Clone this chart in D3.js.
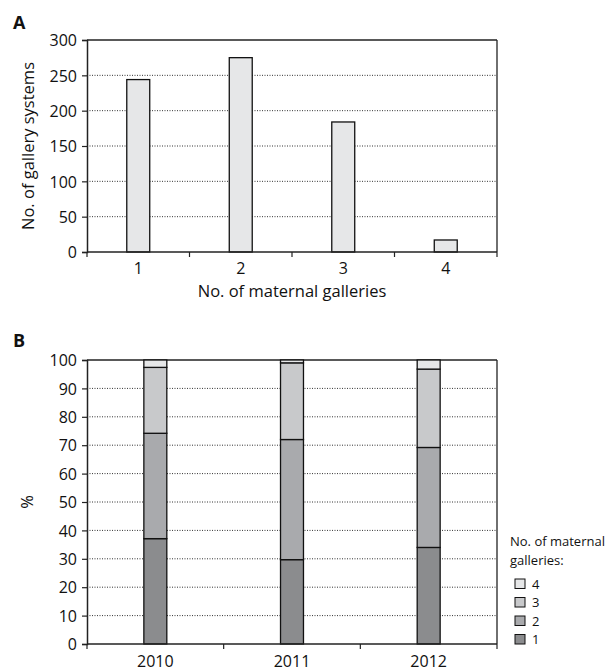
<!DOCTYPE html>
<html>
<head>
<meta charset="utf-8">
<script src="https://cdn.jsdelivr.net/npm/d3@7"></script>
<style>
html,body{margin:0;padding:0;background:#fff;}
svg text{font-family:"Open Sans","Liberation Sans",sans-serif;fill:#111;}
</style>
</head>
<body>
<svg id="chart" width="612" height="671"></svg>
<script>
// ---- Data ----
const galleryCategories = ["1", "2", "3", "4"];
const gallerySystems = [244, 275, 184, 17];
const yTicksA = [0, 50, 100, 150, 200, 250, 300];

const years = ["2010", "2011", "2012"];
const pct1 = [37.1, 29.7, 34.0];
const pct2 = [37.1, 42.3, 35.2];
const pct3 = [23.2, 27.0, 27.6];
const pct4 = [2.6, 1.0, 3.2];
const seriesKeys = ["1", "2", "3", "4"];
const seriesColors = ["#8b8c8e", "#a9aaad", "#c8c9cb", "#e6e7e8"];
const yTicksB = [0, 10, 20, 30, 40, 50, 60, 70, 80, 90, 100];

const svg = d3.select("#chart");
const L = 87, R = 497;
const FS = 16;
const TFS = 16.5;

function drawFrame(g, x0, x1, y0, y1) {
  g.append("line").attr("x1", x0).attr("x2", x1).attr("y1", y0).attr("y2", y0).attr("stroke", "#222").attr("stroke-width", 1.3);
  g.append("line").attr("x1", x1).attr("x2", x1).attr("y1", y0).attr("y2", y1).attr("stroke", "#222").attr("stroke-width", 1.3);
}

// ================= Panel A =================
{
  const top = 40, bot = 252;
  const g = svg.append("g");
  const x = d3.scaleBand().domain(galleryCategories).range([L, R]).paddingInner(0.776).paddingOuter(0.388);
  const y = d3.scaleLinear().domain([0, 300]).range([bot, top]);

  g.append("g").selectAll("line").data(yTicksA.filter(d => d > 0 && d < 300)).join("line")
    .attr("x1", L).attr("x2", R).attr("y1", d => y(d)).attr("y2", d => y(d))
    .attr("stroke", "#333").attr("stroke-width", 1).attr("stroke-dasharray", "1,1.5");

  drawFrame(g, L, R, top, bot);

  g.append("g").selectAll("rect").data(galleryCategories).join("rect")
    .attr("x", d => x(d)).attr("width", x.bandwidth())
    .attr("y", (d, i) => y(gallerySystems[i])).attr("height", (d, i) => bot - y(gallerySystems[i]))
    .attr("fill", "#e6e7e8").attr("stroke", "#111").attr("stroke-width", 1.3);

  const ya = g.append("g").attr("transform", `translate(${L},0)`)
    .call(d3.axisLeft(y).tickValues(yTicksA).tickSize(5).tickPadding(5));
  ya.select(".domain").attr("stroke", "#222").attr("stroke-width", 1.5);
  ya.selectAll(".tick line").attr("stroke", "#222").attr("stroke-width", 1.2);
  ya.selectAll("text").attr("font-size", FS).attr("font-family", null).attr("dy", "0.36em");

  const xa = g.append("g").attr("transform", `translate(0,${bot})`)
    .call(d3.axisBottom(x).tickSize(0).tickPadding(0));
  xa.select(".domain").remove();
  xa.selectAll("text").attr("font-size", FS).attr("font-family", null).attr("dy", null).attr("y", 21.5);
  g.append("line").attr("x1", L).attr("x2", R).attr("y1", bot).attr("y2", bot).attr("stroke", "#222").attr("stroke-width", 1.5);
  const bounds = d3.range(galleryCategories.length + 1).map(i => L + i * x.step());
  g.append("g").selectAll("line").data(bounds).join("line")
    .attr("x1", d => d).attr("x2", d => d).attr("y1", bot).attr("y2", bot + 5)
    .attr("stroke", "#222").attr("stroke-width", 1.2);

  g.append("text").attr("x", 292).attr("y", 297).attr("text-anchor", "middle")
    .attr("font-size", TFS).text("No. of maternal galleries");
  g.append("text").attr("transform", `translate(34,${(top + bot) / 2}) rotate(-90)`).attr("text-anchor", "middle")
    .attr("font-size", TFS).text("No. of gallery systems");
  g.append("text").attr("x", 13).attr("y", 28.5).attr("font-size", 18).attr("font-weight", "bold").text("A");
}

// ================= Panel B =================
{
  const top = 360, bot = 644;
  const g = svg.append("g");
  const x = d3.scaleBand().domain(years).range([L, R]).paddingInner(0.832).paddingOuter(0.416);
  const y = d3.scaleLinear().domain([0, 100]).range([bot, top]);

  g.append("g").selectAll("line").data(yTicksB.filter(d => d > 0 && d < 100)).join("line")
    .attr("x1", L).attr("x2", R).attr("y1", d => y(d)).attr("y2", d => y(d))
    .attr("stroke", "#333").attr("stroke-width", 1).attr("stroke-dasharray", "1,1.5");

  drawFrame(g, L, R, top, bot);

  const rows = years.map((yr, i) => ({ year: yr, "1": pct1[i], "2": pct2[i], "3": pct3[i], "4": pct4[i] }));
  const stacked = d3.stack().keys(seriesKeys)(rows);
  const color = d3.scaleOrdinal().domain(seriesKeys).range(seriesColors);

  g.append("g").selectAll("g").data(stacked).join("g")
    .attr("fill", d => color(d.key))
    .selectAll("rect").data(d => d).join("rect")
    .attr("x", d => x(d.data.year)).attr("width", x.bandwidth())
    .attr("y", d => y(d[1])).attr("height", d => y(d[0]) - y(d[1]))
    .attr("stroke", "#111").attr("stroke-width", 1.3);

  const ya = g.append("g").attr("transform", `translate(${L},0)`)
    .call(d3.axisLeft(y).tickValues(yTicksB).tickSize(5).tickPadding(5));
  ya.select(".domain").attr("stroke", "#222").attr("stroke-width", 1.5);
  ya.selectAll(".tick line").attr("stroke", "#222").attr("stroke-width", 1.2);
  ya.selectAll("text").attr("font-size", FS).attr("font-family", null).attr("dy", "0.36em");

  const xa = g.append("g").attr("transform", `translate(0,${bot})`)
    .call(d3.axisBottom(x).tickSize(0).tickPadding(0));
  xa.select(".domain").remove();
  xa.selectAll("text").attr("font-size", FS).attr("font-family", null).attr("dy", null).attr("y", 22.5);
  g.append("line").attr("x1", L).attr("x2", R).attr("y1", bot).attr("y2", bot).attr("stroke", "#222").attr("stroke-width", 1.5);
  const bounds = d3.range(years.length + 1).map(i => L + i * x.step());
  g.append("g").selectAll("line").data(bounds).join("line")
    .attr("x1", d => d).attr("x2", d => d).attr("y1", bot).attr("y2", bot + 5)
    .attr("stroke", "#222").attr("stroke-width", 1.2);

  g.append("text").attr("transform", `translate(33,${(top + bot) / 2}) rotate(-90)`).attr("text-anchor", "middle")
    .attr("font-size", TFS).text("%");
  g.append("text").attr("x", 13).attr("y", 346.7).attr("font-size", 18).attr("font-weight", "bold").text("B");

  const lg = g.append("g");
  lg.append("text").attr("x", 510).attr("y", 546).attr("font-size", 13).text("No. of maternal");
  lg.append("text").attr("x", 510).attr("y", 565).attr("font-size", 13).text("galleries:");
  const legendKeys = seriesKeys.slice().reverse();
  const items = lg.selectAll("g.item").data(legendKeys).join("g").attr("class", "item")
    .attr("transform", (d, i) => `translate(515,${579 + i * 18.5})`);
  items.append("rect").attr("width", 10).attr("height", 9.5).attr("fill", d => color(d))
    .attr("stroke", "#111").attr("stroke-width", 1);
  items.append("text").attr("x", 17).attr("y", 9.5).attr("font-size", 13).text(d => d);
}
</script>
</body>
</html>
